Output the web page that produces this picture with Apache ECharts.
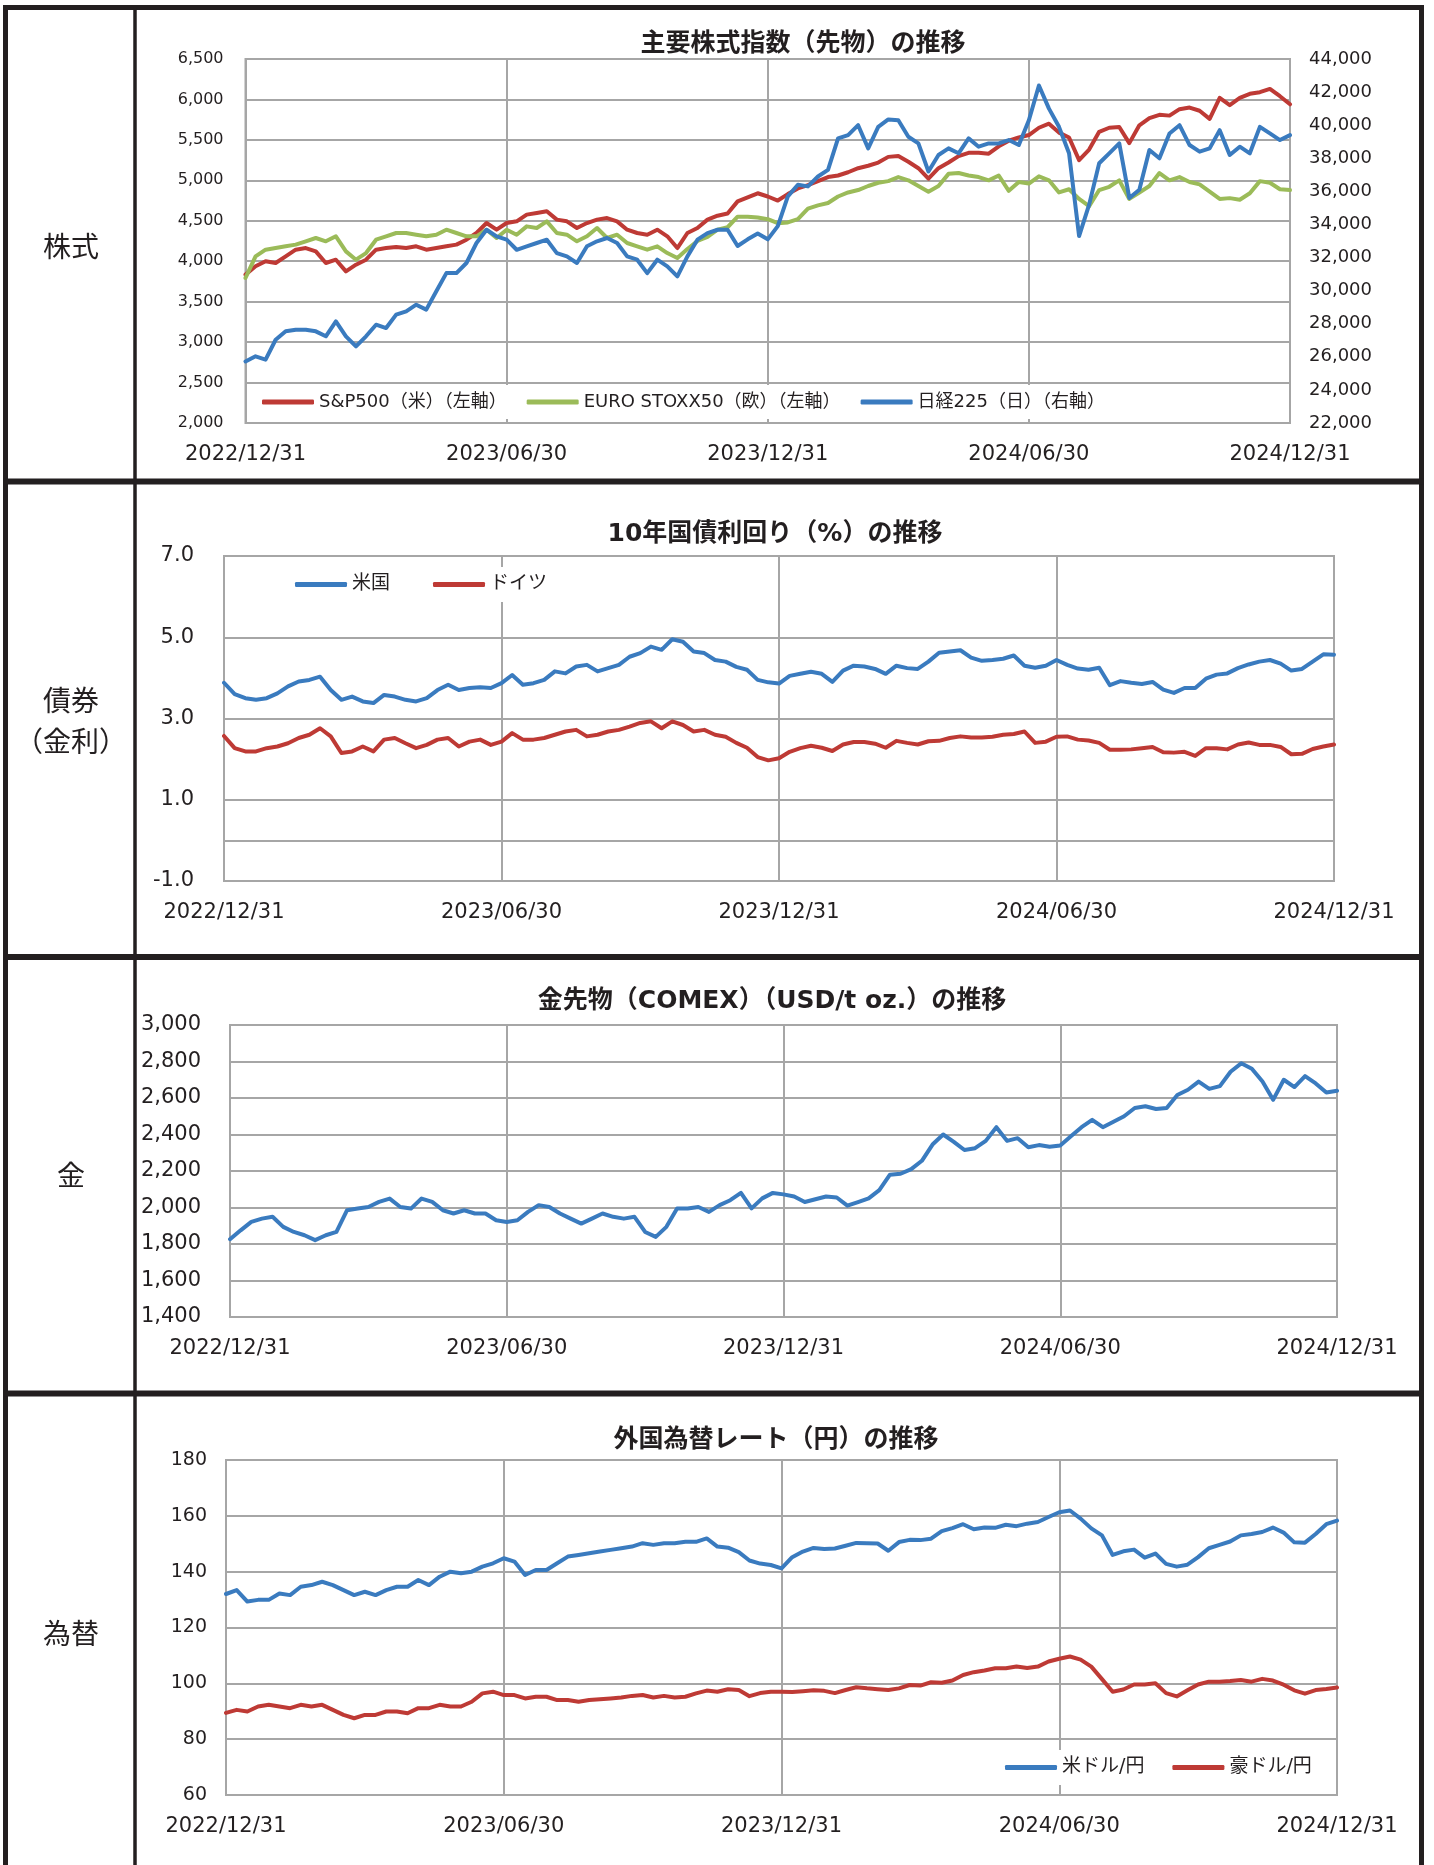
<!DOCTYPE html>
<html><head><meta charset="utf-8">
<script src="https://cdn.jsdelivr.net/npm/echarts@6.0.0/dist/echarts.min.js"></script>
<style>html,body{margin:0;padding:0;background:#fff;}#c{width:1434px;height:1865px;}</style>
</head><body><div id="c"></div>
<script>
// ---- tick labels ----
const xLabels = ['2022/12/31','2023/06/30','2023/12/31','2024/06/30','2024/12/31'];
// ---- weekly values (week 0 = 2022/12/31 ... week 104 = 2024/12/31) ----
const sp500 = [3834,3937,4000,3978,4060,4143,4163,4122,3978,4019,3875,3957,4019,4143,4163,4176,4163,4184,4143,4163,4184,4205,4266,4349,4472,4390,4472,4493,4576,4596,4617,4514,4493,4411,4472,4514,4534,4493,4390,4349,4328,4390,4308,4163,4349,4411,4514,4563,4590,4740,4790,4840,4800,4750,4830,4900,4940,4990,5040,5060,5100,5150,5180,5220,5290,5300,5230,5150,5020,5150,5220,5300,5340,5340,5330,5420,5490,5530,5560,5650,5700,5590,5530,5250,5380,5600,5650,5660,5460,5680,5770,5810,5800,5880,5900,5860,5760,6020,5930,6020,6070,6090,6130,6040,5940];
const stoxx50 = [3793,4060,4143,4163,4184,4205,4246,4287,4246,4308,4122,4019,4101,4266,4308,4349,4349,4328,4308,4328,4390,4349,4308,4308,4390,4287,4390,4328,4431,4411,4493,4349,4328,4246,4308,4411,4287,4328,4225,4184,4143,4184,4101,4040,4150,4250,4300,4390,4420,4550,4550,4540,4520,4470,4480,4520,4650,4690,4720,4800,4850,4880,4930,4970,4990,5040,5000,4930,4860,4930,5080,5090,5060,5040,5000,5060,4870,4980,4960,5050,5000,4850,4890,4770,4680,4880,4920,5000,4770,4850,4930,5090,5000,5040,4980,4950,4860,4770,4780,4760,4840,4990,4970,4890,4880];
const nikkei225 = [25720,26030,25830,27030,27540,27640,27640,27540,27240,28140,27240,26630,27240,27940,27740,28550,28750,29150,28850,29960,31060,31060,31670,32880,33680,33280,33080,32470,32680,32880,33080,32270,32070,31670,32680,32980,33180,32880,32070,31870,31060,31870,31470,30860,32070,33080,33480,33680,33680,32700,33100,33450,33100,33900,35700,36400,36300,36900,37300,39200,39400,40000,38600,39900,40350,40300,39300,38900,37200,38200,38600,38300,39200,38700,38900,38900,39100,38800,40300,42400,41000,39900,38300,33300,35200,37700,38300,38900,35600,36100,38500,38000,39500,40000,38800,38400,38600,39700,38200,38700,38300,39900,39500,39100,39400];
const us10y = [3.88,3.60,3.50,3.46,3.50,3.62,3.79,3.91,3.95,4.03,3.70,3.46,3.54,3.42,3.38,3.58,3.54,3.46,3.42,3.50,3.70,3.83,3.70,3.75,3.77,3.75,3.87,4.07,3.83,3.87,3.95,4.16,4.11,4.28,4.32,4.16,4.24,4.32,4.52,4.61,4.77,4.69,4.95,4.89,4.65,4.61,4.44,4.40,4.27,4.20,3.95,3.89,3.86,4.05,4.10,4.15,4.10,3.90,4.18,4.30,4.28,4.22,4.10,4.30,4.24,4.22,4.40,4.62,4.65,4.68,4.50,4.42,4.44,4.47,4.55,4.30,4.25,4.30,4.44,4.32,4.23,4.20,4.25,3.82,3.92,3.88,3.85,3.90,3.71,3.63,3.75,3.75,3.98,4.08,4.11,4.24,4.33,4.40,4.44,4.35,4.18,4.22,4.40,4.58,4.57];
const de10y = [2.57,2.27,2.19,2.19,2.27,2.31,2.39,2.52,2.60,2.76,2.56,2.15,2.19,2.31,2.19,2.48,2.52,2.39,2.27,2.35,2.48,2.52,2.31,2.43,2.48,2.35,2.43,2.64,2.48,2.48,2.52,2.60,2.68,2.72,2.56,2.60,2.68,2.72,2.80,2.89,2.93,2.76,2.93,2.84,2.68,2.72,2.60,2.55,2.40,2.28,2.05,1.97,2.02,2.18,2.27,2.33,2.28,2.20,2.36,2.42,2.42,2.38,2.28,2.45,2.40,2.36,2.44,2.45,2.52,2.56,2.53,2.53,2.55,2.60,2.62,2.68,2.40,2.43,2.55,2.56,2.48,2.46,2.40,2.23,2.23,2.24,2.27,2.30,2.17,2.16,2.18,2.08,2.27,2.27,2.24,2.36,2.41,2.35,2.35,2.30,2.12,2.13,2.25,2.31,2.36];
const gold = [1826,1875,1921,1939,1949,1894,1866,1848,1821,1848,1866,1985,1994,2003,2031,2049,2003,1994,2049,2031,1985,1967,1985,1967,1967,1930,1921,1930,1976,2013,2003,1967,1939,1912,1939,1967,1949,1939,1949,1866,1839,1894,1994,1994,2003,1976,2013,2040,2080,1995,2050,2080,2072,2060,2030,2045,2060,2055,2010,2030,2050,2095,2180,2185,2210,2256,2345,2400,2360,2315,2325,2365,2440,2365,2380,2330,2342,2333,2340,2390,2440,2480,2440,2470,2500,2545,2555,2540,2545,2616,2645,2690,2650,2665,2744,2790,2760,2690,2590,2700,2660,2720,2680,2630,2640];
const usdjpy = [132.0,133.4,129.3,129.9,129.9,132.2,131.6,134.6,135.2,136.4,135.2,133.4,131.6,132.8,131.6,133.4,134.6,134.6,137.0,135.2,138.2,140.0,139.4,140.0,141.8,143.0,144.8,143.6,138.8,140.6,140.6,143.0,145.4,146.0,146.6,147.2,147.8,148.4,149.0,150.2,149.6,150.2,150.2,150.7,150.7,151.9,149.0,148.6,147.0,144.0,142.9,142.4,141.2,145.2,147.2,148.5,148.1,148.3,149.3,150.3,150.2,150.1,147.5,150.6,151.4,151.3,151.8,154.5,155.6,157.0,155.2,155.8,155.7,156.8,156.3,157.2,157.8,159.6,161.3,161.9,159.0,155.5,153.0,146.0,147.3,147.9,145.0,146.5,142.8,141.8,142.5,145.2,148.4,149.6,150.8,153.0,153.5,154.2,155.8,154.0,150.5,150.4,153.5,157.0,158.3];
const audjpy = [89.4,90.5,89.9,91.7,92.3,91.7,91.1,92.3,91.7,92.3,90.5,88.7,87.5,88.7,88.7,89.9,89.9,89.3,91.1,91.1,92.3,91.7,91.7,93.4,96.4,97.0,95.8,95.8,94.6,95.2,95.2,94.0,94.0,93.4,94.0,94.3,94.6,94.9,95.5,95.8,94.9,95.5,94.9,95.2,96.4,97.4,97.0,97.9,97.6,95.4,96.5,97.0,97.0,96.9,97.2,97.5,97.3,96.5,97.6,98.6,98.2,97.9,97.6,98.2,99.4,99.2,100.4,100.2,101.0,103.0,104.0,104.6,105.4,105.4,106.0,105.5,106.0,107.8,108.8,109.6,108.5,106.0,101.5,97.0,97.8,99.6,99.6,100.0,96.5,95.3,97.5,99.6,100.6,100.6,100.8,101.2,100.6,101.6,101.0,99.5,97.5,96.3,97.6,98.0,98.5];

const BLUE = '#3A7BBF', RED = '#BE3A35', GREEN = '#9BBB59';
const GRID = '#A6A6A6', TXT = '#231F20', FRAME = '#231F20';
const LAT = "'DejaVu Sans','Noto Sans CJK JP',sans-serif";
const CJK = "'Noto Sans CJK JP',sans-serif";
const pts = arr => arr.map((v, i) => [i, v]);
const comma = v => Number(v).toLocaleString('en-US');

function xAx(g) {
  return {type: 'value', gridIndex: g, min: 0, max: 104, interval: 26,
    axisLine: {show: false}, axisTick: {show: false},
    splitLine: {show: true, lineStyle: {color: GRID, width: 2}},
    axisLabel: {formatter: v => xLabels[Math.round(v / 26)] || '', fontSize: 21, fontFamily: LAT,
      color: TXT, margin: 21, showMinLabel: true, showMaxLabel: true}};
}
function yAx(g, min, max, interval, fmt, size, margin, extra) {
  return Object.assign({type: 'value', gridIndex: g, min, max, interval,
    axisLine: {show: false}, axisTick: {show: false},
    splitLine: {show: true, lineStyle: {color: GRID, width: 2}},
    axisLabel: {formatter: fmt, fontSize: size, fontFamily: LAT, color: TXT, margin}}, extra || {});
}
function grid(left, top, width, height) {
  return {left, top, width, height, show: true, borderColor: GRID, borderWidth: 2, backgroundColor: '#fff'};
}
function line(name, data, color, xi, yi, extra) {
  return Object.assign({type: 'line', name, data: pts(data), xAxisIndex: xi, yAxisIndex: yi,
    showSymbol: false, color, lineStyle: {width: 4, color, cap: 'round', join: 'round'},
    animation: false, silent: true}, extra || {});
}
function title(text, cx, cy) {
  return {text, left: cx, top: cy - 10, textAlign: 'center', padding: 0,
    textStyle: {fontSize: 25, fontWeight: 'bold', fontFamily: LAT, color: TXT}};
}
function legend(names, left, top, gap, size) {
  return {data: names, left, top, padding: [8, 5], itemGap: gap, itemWidth: 52, itemHeight: 5,
    icon: 'roundRect', backgroundColor: '#fff', selectedMode: false,
    textStyle: {fontSize: size, fontFamily: LAT, color: TXT}};
}
function sideLabel(text, y) {
  return {type: 'text', x: 71, y, style: {text, fontSize: 28, fontFamily: CJK, fill: TXT,
    textAlign: 'center', textVerticalAlign: 'middle'}};
}
function hline(y) {
  return {type: 'line', shape: {x1: 4, y1: y, x2: 1424, y2: y}, style: {stroke: FRAME, lineWidth: 6}, z: 100};
}

const chart = echarts.init(document.getElementById('c'));
chart.setOption({
  animation: false,
  backgroundColor: '#fff',
  title: [
    title('主要株式指数（先物）の推移', 803, 42),
    title('10年国債利回り（%）の推移', 775, 532),
    title('金先物（COMEX）（USD/t oz.）の推移', 772, 999),
    title('外国為替レート（円）の推移', 776, 1438)
  ],
  legend: [
    legend(['S&P500（米）（左軸）', 'EURO STOXX50（欧）（左軸）', '日経225（日）（右軸）'], 257, 385, 20, 18),
    legend(['米国', 'ドイツ'], 290, 567, 43, 19),
    legend(['米ドル/円', '豪ドル/円'], 1000, 1750, 28, 19)
  ],
  grid: [
    grid(245.5, 59, 1044.5, 364),
    grid(224, 556, 1110, 325),
    grid(230, 1025, 1107, 292),
    grid(226, 1460, 1111, 335)
  ],
  xAxis: [xAx(0), xAx(1), xAx(2), xAx(3)],
  yAxis: [
    yAx(0, 2000, 6500, 500, comma, 16, 22),
    yAx(0, 22000, 44000, 2000, comma, 18, 19, {position: 'right', splitLine: {show: false}}),
    yAx(1, -1, 7, 2, v => Number(v).toFixed(1), 21, 30),
    yAx(2, 1400, 3000, 200, comma, 21, 29),
    yAx(3, 60, 180, 20, v => String(v), 19, 19)
  ],
  series: [
    line('S&P500（米）（左軸）', sp500, RED, 0, 0),
    line('EURO STOXX50（欧）（左軸）', stoxx50, GREEN, 0, 0),
    line('日経225（日）（右軸）', nikkei225, BLUE, 0, 1),
    line('米国', us10y, BLUE, 1, 2, {markLine: {silent: true, symbol: 'none', label: {show: false},
      lineStyle: {color: GRID, width: 2, type: 'solid'}, data: [{yAxis: 0}], animation: false}}),
    line('ドイツ', de10y, RED, 1, 2),
    line('金先物', gold, BLUE, 2, 3),
    line('米ドル/円', usdjpy, BLUE, 3, 4),
    line('豪ドル/円', audjpy, RED, 3, 4)
  ],
  graphic: [
    {type: 'rect', shape: {x: 5.5, y: 7.5, width: 1416, height: 1900}, style: {fill: 'none', stroke: FRAME, lineWidth: 5}, z: 100},
    {type: 'line', shape: {x1: 135, y1: 7, x2: 135, y2: 1865}, style: {stroke: FRAME, lineWidth: 3.5}, z: 100},
    hline(481.5), hline(957), hline(1393.5),
    sideLabel('株式', 246),
    sideLabel('債券', 700),
    sideLabel('（金利）', 741),
    sideLabel('金', 1175),
    sideLabel('為替', 1633)
  ]
});
</script>
</body></html>
